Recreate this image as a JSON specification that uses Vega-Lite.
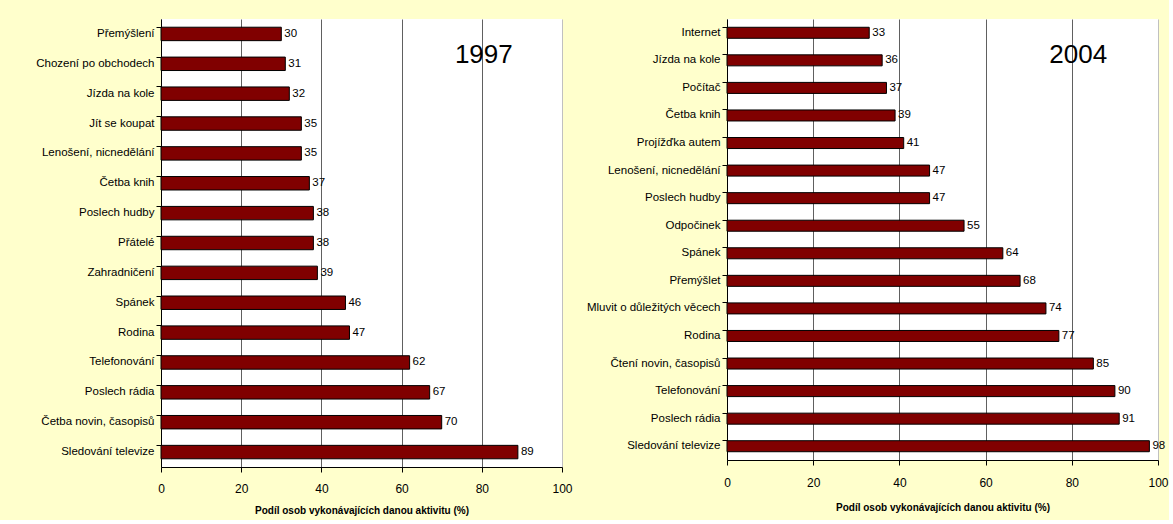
{
  "$schema": "https://vega.github.io/schema/vega-lite/v6.json",
  "background": "#FFFFCC",
  "padding": {"left": 35, "top": 19, "right": 0, "bottom": 5},
  "spacing": 13,
  "datasets": {
    "y1997": [
      {"activity": "Přemýšlení", "value": 30},
      {"activity": "Chození po obchodech", "value": 31},
      {"activity": "Jízda na kole", "value": 32},
      {"activity": "Jít se koupat", "value": 35},
      {"activity": "Lenošení, nicnedělání", "value": 35},
      {"activity": "Četba knih", "value": 37},
      {"activity": "Poslech hudby", "value": 38},
      {"activity": "Přátelé", "value": 38},
      {"activity": "Zahradničení", "value": 39},
      {"activity": "Spánek", "value": 46},
      {"activity": "Rodina", "value": 47},
      {"activity": "Telefonování", "value": 62},
      {"activity": "Poslech rádia", "value": 67},
      {"activity": "Četba novin, časopisů", "value": 70},
      {"activity": "Sledování televize", "value": 89}
    ],
    "y2004": [
      {"activity": "Internet", "value": 33},
      {"activity": "Jízda na kole", "value": 36},
      {"activity": "Počítač", "value": 37},
      {"activity": "Četba knih", "value": 39},
      {"activity": "Projížďka autem", "value": 41},
      {"activity": "Lenošení, nicnedělání", "value": 47},
      {"activity": "Poslech hudby", "value": 47},
      {"activity": "Odpočinek", "value": 55},
      {"activity": "Spánek", "value": 64},
      {"activity": "Přemýšlet", "value": 68},
      {"activity": "Mluvit o důležitých věcech", "value": 74},
      {"activity": "Rodina", "value": 77},
      {"activity": "Čtení novin, časopisů", "value": 85},
      {"activity": "Telefonování", "value": 90},
      {"activity": "Poslech rádia", "value": 91},
      {"activity": "Sledování televize", "value": 98}
    ]
  },
  "config": {
    "font": "Liberation Sans",
    "view": {"stroke": null, "fill": "white"},
    "axis": {
      "domainColor": "black",
      "tickColor": "black",
      "tickSize": 5,
      "labelColor": "black",
      "titleColor": "black",
      "labelFont": "Liberation Sans",
      "titleFont": "Liberation Sans"
    }
  },
  "hconcat": [
    {
      "width": 401,
      "height": 448,
      "data": {"name": "y1997"},
      "encoding": {
        "y": {
          "field": "activity",
          "type": "nominal",
          "sort": null,
          "scale": {"paddingInner": 0.55, "paddingOuter": 0.275},
          "axis": {"title": null, "labelFontSize": 11.5, "labelPadding": 2, "bandPosition": 0, "grid": false, "labelLimit": 300}
        },
        "x": {
          "field": "value",
          "type": "quantitative",
          "scale": {"domain": [0, 100], "nice": false},
          "axis": {
            "values": [0, 20, 40, 60, 80, 100],
            "title": "Podíl osob vykonávajících danou aktivitu (%)",
            "titleFontSize": 10,
            "titleFontWeight": "bold",
            "titlePadding": 11,
            "labelFontSize": 12,
            "labelPadding": 11,
            "labelFlush": false,
            "grid": true,
            "gridColor": {"condition": {"test": "datum.value === 100", "value": "#c0c0c0"}, "value": "#606060"},
            "gridOpacity": 1
          }
        }
      },
      "layer": [
        {"mark": {"type": "bar", "color": "#800000", "stroke": "black", "strokeWidth": 1}},
        {
          "mark": {"type": "text", "align": "left", "baseline": "middle", "dx": 3, "fontSize": 11.5, "color": "black"},
          "encoding": {"text": {"field": "value", "type": "quantitative"}}
        },
        {
          "mark": {"type": "text", "align": "center", "baseline": "middle", "fontSize": 26, "dy": -9, "color": "black"},
          "encoding": {
            "x": {"datum": 80.5},
            "y": {"datum": "Chození po obchodech"},
            "text": {"value": "1997"}
          },
          "transform": [{"filter": "datum.activity === 'Přemýšlení'"}]
        }
      ]
    },
    {
      "width": 431,
      "height": 441,
      "data": {"name": "y2004"},
      "encoding": {
        "y": {
          "field": "activity",
          "type": "nominal",
          "sort": null,
          "scale": {"paddingInner": 0.6, "paddingOuter": 0.3},
          "axis": {"title": null, "labelFontSize": 11.5, "labelPadding": 2, "bandPosition": 0, "grid": false, "labelLimit": 300}
        },
        "x": {
          "field": "value",
          "type": "quantitative",
          "scale": {"domain": [0, 100], "nice": false},
          "axis": {
            "values": [0, 20, 40, 60, 80, 100],
            "title": "Podíl osob vykonávajících danou aktivitu (%)",
            "titleFontSize": 10,
            "titleFontWeight": "bold",
            "titlePadding": 14,
            "labelFontSize": 12,
            "labelPadding": 12,
            "labelFlush": false,
            "grid": true,
            "gridColor": {"condition": {"test": "datum.value === 100", "value": "#c0c0c0"}, "value": "#606060"},
            "gridOpacity": 1
          }
        }
      },
      "layer": [
        {"mark": {"type": "bar", "color": "#800000", "stroke": "black", "strokeWidth": 1}},
        {
          "mark": {"type": "text", "align": "left", "baseline": "middle", "dx": 3, "fontSize": 11.5, "color": "black"},
          "encoding": {"text": {"field": "value", "type": "quantitative"}}
        },
        {
          "mark": {"type": "text", "align": "center", "baseline": "middle", "fontSize": 26, "dy": -5, "color": "black"},
          "encoding": {
            "x": {"datum": 81.5},
            "y": {"datum": "Jízda na kole"},
            "text": {"value": "2004"}
          },
          "transform": [{"filter": "datum.activity === 'Internet'"}]
        }
      ]
    }
  ]
}
